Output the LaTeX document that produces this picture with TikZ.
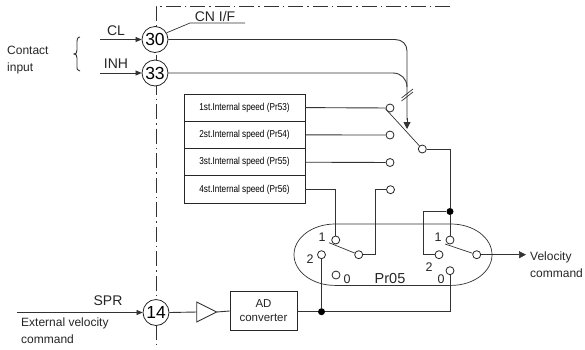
\documentclass[tikz,border=0pt]{standalone}
\usepackage{fontspec}
\setmainfont{Liberation Sans}
\usetikzlibrary{arrows.meta,calc}
\tikzset{
 wire/.style={draw=black!80,line width=0.9pt},
 arrowwire/.style={wire,-{Triangle[length=6pt,width=5pt]}},
 bigarrow/.style={wire,-{Triangle[length=7pt,width=7pt]}},
 thin wire/.style={draw=black!80,line width=0.7pt},
 term/.style={circle,draw=black!85,fill=white,line width=0.8pt,minimum size=26pt,inner sep=0pt,font=\fontsize{17.5}{18}\selectfont},
 contact/.style={circle,draw=black!85,fill=white,line width=0.8pt,minimum size=8pt,inner sep=0pt},
 jdot/.style={circle,fill=black,minimum size=7pt,inner sep=0pt},
 spdbox/.style={rectangle,draw=black!85,line width=0.8pt,fill=white,minimum width=121pt,minimum height=27.3pt,inner sep=0pt,font=\fontsize{10}{11}\selectfont\addfontfeatures{FakeStretch=0.82}},
 txt/.style={inner sep=0pt,font=\fontsize{14}{14}\selectfont,text=black!85},
 para/.style={inner sep=0pt,align=left,anchor=west,font=\fontsize{12}{17}\selectfont,text=black!85},
 num/.style={inner sep=0pt,font=\fontsize{12.5}{12}\selectfont,text=black!85},
 bound/.style={draw=black!80,line width=0.8pt,dash pattern=on 15pt off 4pt on 1.5pt off 4pt},
}
\begin{document}
\begin{tikzpicture}[x=1pt,y=-1pt]
\useasboundingbox (0,0) rectangle (585,349);
\fill[white] (0,0) rectangle (585,349);
% boundary
\draw[bound] (450,6) -- (156,6) -- (156,345);
% terminals
\node[term] (t30) at (155,39.5) {30};
\node[term] (t33) at (155,73) {33};
\node[term] (t14) at (156,312.5) {14};
% CN I/F
\coordinate (cn1) at (190,23);
\coordinate (cn2) at (245,23);
\draw[thin wire] (t30.30) -- (cn1) -- (cn2);
\node[txt] (cnl) at (215,16) {CN I/F};
% inputs
\coordinate (cl) at (100,39.5);
\coordinate (inh) at (100,73);
\draw[arrowwire,line width=0.7pt] (cl) -- (t30);
\draw[arrowwire,line width=0.7pt] (inh) -- (t33);
\node[txt] (cll) at (116,31) {CL};
\node[txt] (inhl) at (116,64) {INH};
\node[para] (ci) at (7,60) {Contact\\input};
\draw[wire] (80,37) .. controls (77,37) and (77,40) .. (77,44) -- (77,50) .. controls (77,53) and (76,54) .. (74,54) .. controls (76,54) and (77,55) .. (77,58) -- (77,65) .. controls (77,69) and (77,71) .. (80,71);
% speed boxes
\node[spdbox] (b1) at (244.5,107.6) {1st.Internal speed (Pr53)};
\node[spdbox] (b2) at (244.5,134.9) {2st.Internal speed (Pr54)};
\node[spdbox] (b3) at (244.5,162.2) {3st.Internal speed (Pr55)};
\node[spdbox] (b4) at (244.5,189.5) {4st.Internal speed (Pr56)};
% Pr05 outline
\draw[thin wire] (335,224) -- (451,224) .. controls (473.6,224) and (492,237.7) .. (492,254.7) .. controls (492,271.7) and (473.6,285.4) .. (451,285.4) -- (335,285.4) .. controls (312.4,285.4) and (294,271.7) .. (294,254.7) .. controls (294,237.7) and (312.4,224) .. (335,224) -- cycle;
\node[txt,font=\fontsize{14.5}{14}\selectfont] (pr) at (390,278) {Pr05};
% wires under contacts
\coordinate (a1) at (407,129);
\draw[wire] (t30.east) -- (395,39.5) .. controls (402,39.5) and (407,44) .. (407,51) -- (407,120);
\draw[wire] (t33.east) -- (393,73) .. controls (401,73) and (407,79) .. (407,87);
\draw[bigarrow] (407,118) -- (a1);
\draw[thin wire] (401.5,101) -- (413,92);
\draw[thin wire] (401.5,98) -- (413,89);
% contacts
\node[contact] (c1) at (390,108) {};
\node[contact] (c2) at (390,135) {};
\node[contact] (c3) at (390,162.5) {};
\node[contact] (c4) at (390.5,189.7) {};
\node[contact] (sw) at (422.3,149) {};
\node[contact] (l1) at (335.7,240) {};
\node[contact] (l2) at (321.5,254.7) {};
\node[contact] (l0) at (336,275) {};
\node[contact] (lc) at (358.7,254.7) {};
\node[contact] (r1) at (450,240) {};
\node[contact] (r2) at (439,254.7) {};
\node[contact] (r0) at (450,270.7) {};
\node[contact] (rc) at (476.7,254.7) {};
% junctions
\node[jdot] (j1) at (450,211.5) {};
\node[jdot] (j2) at (321.5,311.7) {};
% wires
\draw[wire] (b1.east) -- (c1);
\draw[wire] (b2.east) -- (c2);
\draw[wire] (b3.east) -- (c3);
\draw[wire] (b4.east) -- (335.7,189.5) -- (l1);
\draw[wire] (lc) -- (375,254.7) -- (375,189.7) -- (c4);
\draw[wire] (sw) -- (450,149) -- (j1);
\draw[wire] (j1) -- (r1);
\draw[wire] (j1) -- (423,211.5) -- (423,254.7) -- (r2);
\draw[wire] (j2) -- (l2);
\draw[thin wire] (sw) -- (385.7,109);
\draw[thin wire] (lc) -- (329,242.7);
\draw[thin wire] (rc) -- (445,244);
\coordinate (vel) at (526,254.7);
\draw[bigarrow,line width=0.7pt] (rc) -- (vel);
% bottom
\coordinate (spr) at (17,312.5);
\draw[arrowwire,line width=0.7pt] (spr) -- (t14);
\node[txt] (sprl) at (108,301) {SPR};
\node[para] (ext) at (21,331) {External velocity\\command};
\node[draw=black!85,line width=0.8pt,minimum width=67pt,minimum height=38.5pt,inner sep=0pt,align=center,font=\fontsize{11.5}{14}\selectfont,text=black!85] (ad) at (263.5,311) {AD\\converter};
\coordinate (tl) at (196.7,312);
\draw[wire] (t14.east) -- (tl);
\draw[wire] (196.7,302) -- (216.7,312) -- (196.7,322) -- cycle;
\draw[wire] (216.7,312) -- (ad.west);
\draw[wire] (297,311.7) -- (j2) -- (450,311.7) -- (r0);
% numbers
\node[num] (n1) at (322,237) {1};
\node[num] (n2) at (310,259) {2};
\node[num] (n0) at (347,279) {0};
\node[num] (m1) at (438,237) {1};
\node[num] (m2) at (429,267) {2};
\node[num] (m0) at (441,279) {0};
\node[para] (vc) at (530,264.5) {Velocity\\command};
\end{tikzpicture}
\end{document}
